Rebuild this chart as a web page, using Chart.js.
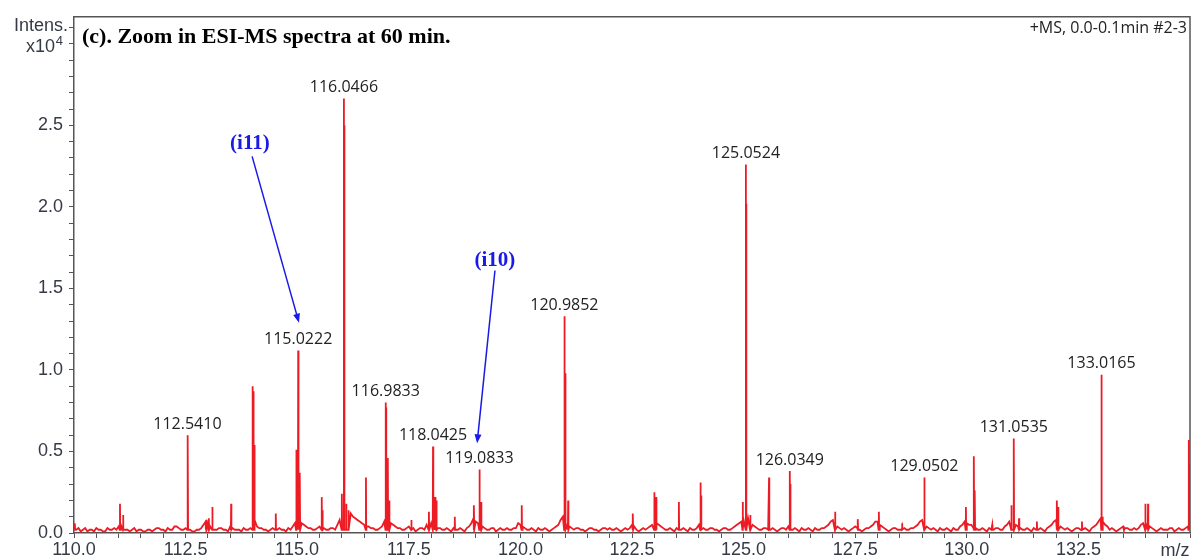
<!DOCTYPE html>
<html>
<head>
<meta charset="utf-8">
<script src="https://cdn.jsdelivr.net/npm/chart.js@4.4.1/dist/chart.umd.min.js"></script>
<style>
  html, body { margin: 0; padding: 0; background: #fff; }
  #wrap { width: 1195px; height: 560px; }
</style>
</head>
<body>
<div id="wrap"><canvas id="myChart" width="1195" height="560"></canvas></div>
<script>
// labelled peaks (m/z, intensity x10^4)
let labelMz  = [112.5410, 115.0222, 116.0466, 116.9833, 118.0425, 119.0833, 120.9852, 125.0524, 126.0349, 129.0502, 131.0535, 133.0165];
let labelInt = [0.60, 1.12, 2.665, 0.80, 0.53, 0.39, 1.33, 2.26, 0.38, 0.34, 0.58, 0.97];

// other spikes
let peakMz  = [110.02, 111.03, 111.10, 112.55, 112.96, 113.02, 113.10, 113.52, 114.00, 114.02, 114.04, 114.52,
               114.98, 115.03, 115.06, 115.55, 115.57, 116.00, 116.06, 116.10, 116.15, 116.54, 116.99, 117.03,
               117.06, 117.56, 117.95, 118.09, 118.12, 118.53, 118.96, 119.12, 120.03, 120.99, 121.01, 121.07,
               122.52, 123.00, 123.04, 123.55, 124.03, 124.05, 124.98, 125.06, 125.15, 125.57, 126.05, 127.05,
               127.56, 128.03, 128.55, 129.98, 130.16, 130.18, 130.57, 131.00, 131.17, 131.57, 132.02, 132.05,
               132.58, 133.04, 133.52, 134.00, 134.06, 134.97, 134.98];
let peakInt = [0.06, 0.18, 0.11, 0.58, 0.08, 0.09, 0.16, 0.18, 0.90, 0.87, 0.54, 0.12,
               0.51, 0.97, 0.37, 0.22, 0.14, 0.24, 2.50, 0.18, 0.14, 0.34, 0.77, 0.46,
               0.20, 0.08, 0.13, 0.22, 0.20, 0.10, 0.17, 0.19, 0.17, 1.18, 0.98, 0.20,
               0.12, 0.25, 0.22, 0.19, 0.31, 0.23, 0.19, 2.02, 0.11, 0.34, 0.30, 0.13,
               0.085, 0.13, 0.06, 0.16, 0.47, 0.26, 0.05, 0.17, 0.09, 0.07, 0.20, 0.16,
               0.07, 0.10, 0.04, 0.18, 0.18, 0.57, 0.42];

// baseline noise, one value every 0.1 m/z from 110.0 ...
let noiseStart = 110.0;
let noiseStep = 0.1;
let noise = [
  0.05, 0.03, 0.02, 0.01, 0.02, 0.03, 0.02, 0.01, 0.02, 0.03,
  0.04, 0.03, 0.02, 0.02, 0.01, 0.02, 0.01, 0.02, 0.02, 0.03,
  0.02, 0.03, 0.02, 0.04, 0.02, 0.03, 0.02, 0.01, 0.02, 0.05,
  0.06, 0.03, 0.02, 0.03, 0.02, 0.04, 0.02, 0.02, 0.03, 0.02,
  0.05, 0.04, 0.03, 0.02, 0.02, 0.02, 0.03, 0.02, 0.03, 0.04,
  0.09, 0.06, 0.04, 0.03, 0.02, 0.04, 0.03, 0.02, 0.03, 0.05,
  0.14, 0.15, 0.12, 0.09, 0.07, 0.05, 0.04, 0.03, 0.02, 0.04,
  0.12, 0.06, 0.04, 0.03, 0.02, 0.04, 0.03, 0.02, 0.03, 0.05,
  0.06, 0.05, 0.03, 0.02, 0.02, 0.03, 0.02, 0.02, 0.03, 0.06,
  0.07, 0.05, 0.03, 0.02, 0.03, 0.02, 0.02, 0.03, 0.02, 0.03,
  0.05, 0.03, 0.02, 0.02, 0.03, 0.02, 0.02, 0.02, 0.04, 0.08,
  0.07, 0.04, 0.02, 0.03, 0.02, 0.02, 0.03, 0.02, 0.02, 0.03,
  0.03, 0.02, 0.02, 0.02, 0.02, 0.05, 0.02, 0.02, 0.02, 0.04,
  0.08, 0.05, 0.03, 0.02, 0.02, 0.03, 0.02, 0.02, 0.03, 0.02,
  0.05, 0.03, 0.02, 0.03, 0.02, 0.02, 0.03, 0.02, 0.04, 0.06,
  0.08, 0.09, 0.05, 0.03, 0.02, 0.03, 0.02, 0.02, 0.02, 0.03,
  0.04, 0.02, 0.02, 0.03, 0.02, 0.02, 0.03, 0.02, 0.03, 0.05,
  0.08, 0.04, 0.02, 0.02, 0.02, 0.04, 0.02, 0.02, 0.03, 0.05,
  0.07, 0.04, 0.02, 0.02, 0.03, 0.02, 0.03, 0.02, 0.03, 0.05,
  0.08, 0.04, 0.02, 0.02, 0.03, 0.02, 0.02, 0.03, 0.02, 0.05,
  0.06, 0.05, 0.03, 0.02, 0.02, 0.03, 0.02, 0.03, 0.02, 0.05,
  0.09, 0.05, 0.03, 0.02, 0.02, 0.03, 0.02, 0.02, 0.03, 0.05,
  0.08, 0.04, 0.02, 0.02, 0.02, 0.03, 0.02, 0.02, 0.03, 0.05,
  0.09, 0.05, 0.02, 0.02, 0.02, 0.04, 0.03, 0.02, 0.02, 0.05,
  0.07, 0.04, 0.02, 0.02, 0.02, 0.02, 0.03, 0.02, 0.02, 0.03,
  0.05
];
// ... and one in between, from 110.05
let noiseMidStart = 110.05;
let noiseMid = [
  0.02, 0.01, 0.03, 0.02, 0.01, 0.02, 0.01, 0.03, 0.02, 0.02,
  0.05, 0.02, 0.01, 0.03, 0.02, 0.01, 0.02, 0.01, 0.03, 0.02,
  0.01, 0.02, 0.04, 0.03, 0.02, 0.04, 0.01, 0.02, 0.03, 0.07,
  0.04, 0.02, 0.03, 0.02, 0.01, 0.03, 0.02, 0.01, 0.02, 0.03,
  0.08, 0.03, 0.02, 0.01, 0.03, 0.02, 0.02, 0.01, 0.02, 0.06,
  0.07, 0.05, 0.03, 0.02, 0.03, 0.05, 0.02, 0.03, 0.02, 0.08,
  0.17, 0.13, 0.10, 0.08, 0.06, 0.04, 0.03, 0.02, 0.03, 0.07,
  0.09, 0.05, 0.03, 0.02, 0.03, 0.02, 0.01, 0.03, 0.02, 0.07,
  0.08, 0.03, 0.02, 0.03, 0.01, 0.02, 0.03, 0.01, 0.04, 0.09,
  0.06, 0.04, 0.02, 0.03, 0.01, 0.03, 0.02, 0.02, 0.03, 0.06,
  0.04, 0.02, 0.03, 0.01, 0.02, 0.03, 0.01, 0.03, 0.05, 0.10,
  0.05, 0.03, 0.03, 0.02, 0.01, 0.03, 0.02, 0.01, 0.03, 0.02,
  0.02, 0.03, 0.01, 0.03, 0.03, 0.04, 0.01, 0.03, 0.03, 0.05,
  0.06, 0.04, 0.02, 0.03, 0.01, 0.02, 0.03, 0.01, 0.02, 0.03,
  0.04, 0.02, 0.03, 0.02, 0.01, 0.03, 0.02, 0.03, 0.05, 0.07,
  0.10, 0.06, 0.04, 0.02, 0.03, 0.02, 0.03, 0.01, 0.03, 0.02,
  0.03, 0.03, 0.01, 0.02, 0.03, 0.01, 0.02, 0.03, 0.04, 0.07,
  0.06, 0.03, 0.03, 0.01, 0.03, 0.03, 0.01, 0.03, 0.04, 0.07,
  0.05, 0.03, 0.01, 0.03, 0.02, 0.03, 0.02, 0.03, 0.04, 0.07,
  0.06, 0.03, 0.03, 0.01, 0.02, 0.03, 0.01, 0.02, 0.04, 0.07,
  0.05, 0.03, 0.02, 0.03, 0.01, 0.02, 0.03, 0.02, 0.04, 0.07,
  0.07, 0.04, 0.02, 0.03, 0.01, 0.02, 0.03, 0.01, 0.04, 0.07,
  0.06, 0.03, 0.03, 0.01, 0.03, 0.02, 0.03, 0.01, 0.04, 0.07,
  0.07, 0.04, 0.03, 0.01, 0.03, 0.03, 0.02, 0.03, 0.03, 0.06,
  0.06, 0.03, 0.01, 0.03, 0.02, 0.03, 0.01, 0.03, 0.02, 0.04
];

// annotations: [text, textMz, textInt, arrowFromMz, arrowFromInt, arrowToMz, arrowToInt]
let notes = [
  ['(i11)', 113.94, 2.39, 113.99, 2.31, 115.04, 1.29],
  ['(i10)', 119.43, 1.67, 119.43, 1.61, 119.03, 0.55]
];

let points = [];
noise.forEach(function (v, i) {
  points.push({x: noiseStart + i * noiseStep, y: v});
});
noiseMid.forEach(function (v, i) {
  points.push({x: noiseMidStart + i * noiseStep, y: v});
});
function addSpike(m, h) {
  points.push({x: m - 0.006, y: 0.02});
  points.push({x: m, y: h});
  points.push({x: m + 0.006, y: 0.02});
}
labelMz.forEach(function (m, i) { addSpike(m, labelInt[i]); });
peakMz.forEach(function (m, i) { addSpike(m, peakInt[i]); });
points.sort(function (a, b) { return a.x - b.x; });

let axisColor = '#555555';
let textColor = '#353a45';

function arrow(c, x1, y1, x2, y2) {
  let a = Math.atan2(y2 - y1, x2 - x1);
  c.beginPath();
  c.moveTo(x1, y1);
  c.lineTo(x2 - 6 * Math.cos(a), y2 - 6 * Math.sin(a));
  c.stroke();
  c.beginPath();
  c.moveTo(x2, y2);
  c.lineTo(x2 - 9 * Math.cos(a) + 3.5 * Math.sin(a), y2 - 9 * Math.sin(a) - 3.5 * Math.cos(a));
  c.lineTo(x2 - 9 * Math.cos(a) - 3.5 * Math.sin(a), y2 - 9 * Math.sin(a) + 3.5 * Math.cos(a));
  c.closePath();
  c.fill();
}

let decor = {
  id: 'decor',
  afterDraw: function (chart) {
    let c = chart.ctx;
    let xs = chart.scales.x, ys = chart.scales.y;
    let a = chart.chartArea;
    c.save();
    // frame top / right
    c.strokeStyle = axisColor;
    c.lineWidth = 1.5;
    c.beginPath();
    c.moveTo(a.left, a.top);
    c.lineTo(a.right, a.top);
    c.lineTo(a.right, a.bottom);
    c.stroke();

    // peak labels
    c.fillStyle = '#222';
    c.font = '16px "Open Sans"';
    c.textAlign = 'center';
    c.textBaseline = 'middle';
    labelMz.forEach(function (m, i) {
      c.fillText(m.toFixed(4), xs.getPixelForValue(m), ys.getPixelForValue(labelInt[i]) - 11);
    });

    // (i11), (i10) with arrows
    c.fillStyle = '#1a1ae6';
    c.strokeStyle = '#1a1ae6';
    c.lineWidth = 1.5;
    c.font = 'bold 21px "Liberation Serif"';
    notes.forEach(function (n) {
      c.fillText(n[0], xs.getPixelForValue(n[1]), ys.getPixelForValue(n[2]));
      arrow(c, xs.getPixelForValue(n[3]), ys.getPixelForValue(n[4]),
               xs.getPixelForValue(n[5]), ys.getPixelForValue(n[6]));
    });

    // title
    c.fillStyle = '#000';
    c.textAlign = 'left';
    c.textBaseline = 'alphabetic';
    c.font = 'bold 22px "Liberation Serif"';
    c.fillText('(c). Zoom in ESI-MS spectra at 60 min.', 82, 43);

    c.font = '16px "Open Sans"';
    c.textAlign = 'right';
    c.fillStyle = '#222';
    c.fillText('+MS, 0.0-0.1min #2-3', a.right - 3, 33);

    // y axis caption
    c.fillStyle = textColor;
    c.textAlign = 'right';
    c.font = '18px "Liberation Sans"';
    c.fillText('Intens.', 68, 31);
    c.font = '13px "Liberation Sans"';
    c.fillText('4', 63, 45);
    c.font = '18px "Liberation Sans"';
    c.fillText('x10', 55, 52);

    // x axis caption
    c.textAlign = 'center';
    c.font = '18px "Liberation Sans"';
    c.fillText('m/z', 1175, 556);
    c.restore();
  }
};

let ctx = document.getElementById('myChart');
let myChart = new Chart(ctx, {
  type: 'line',
  data: {
    datasets: [{
      data: points,
      borderColor: 'rgb(237, 27, 36)',
      borderWidth: 1.8,
      pointRadius: 0,
      tension: 0,
      fill: false
    }]
  },
  options: {
    responsive: false,
    animation: false,
    events: [],
    layout: { padding: { top: 15, right: 5, left: 0, bottom: 0 } },
    plugins: { legend: { display: false }, tooltip: { enabled: false } },
    scales: {
      x: {
        type: 'linear',
        min: 110,
        max: 135,
        afterFit: function (s) { s.height = 27; },
        border: { color: axisColor, width: 1.5 },
        grid: { drawOnChartArea: false, drawTicks: true, tickLength: 5, color: axisColor },
        ticks: {
          stepSize: 0.5,
          autoSkip: false,
          maxRotation: 0,
          padding: 1,
          color: textColor,
          font: { family: 'Liberation Sans', size: 18 },
          callback: function (v) {
            let k = Math.round(v * 2);
            return (k % 5 === 0 && v < 134.9) ? v.toFixed(1) : '';
          }
        }
      },
      y: {
        min: 0,
        max: 3.166,
        afterFit: function (s) { s.width = 74; },
        border: { color: axisColor, width: 1.5 },
        grid: { drawOnChartArea: false, drawTicks: true, tickLength: 5, color: axisColor },
        ticks: {
          stepSize: 0.1,
          includeBounds: false,
          autoSkip: false,
          padding: 6,
          color: textColor,
          font: { family: 'Liberation Sans', size: 18 },
          callback: function (v) {
            let k = Math.round(v * 10);
            return (k % 5 === 0 && v < 2.9) ? v.toFixed(1) : '';
          }
        }
      }
    }
  },
  plugins: [decor]
});
</script>
</body>
</html>
